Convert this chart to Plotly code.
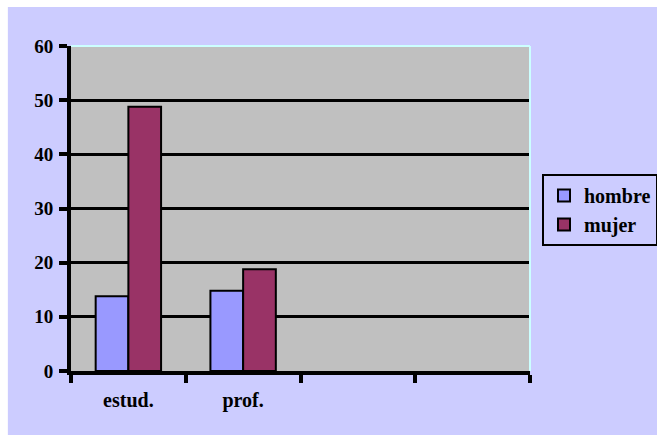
import plotly.graph_objects as go

categories = ["estud.", "prof.", "\u00a0", "\u00a0\u00a0"]
hombre = [13.8, 14.8, None, None]
mujer = [48.8, 18.8, None, None]
y_ticks = [0, 10, 20, 30, 40, 50, 60]

FONT = "Liberation Serif"
LAV = "#CCCCFF"

fig = go.Figure()
fig.add_trace(go.Bar(name="hombre", x=categories, y=hombre,
                     marker=dict(color="#9999FF", line=dict(color="black", width=2))))
fig.add_trace(go.Bar(name="mujer", x=categories, y=mujer,
                     marker=dict(color="#993366", line=dict(color="black", width=2))))

fig.update_layout(
    width=657, height=435,
    margin=dict(l=71, r=127, t=46, b=64, autoexpand=False),
    paper_bgcolor=LAV, plot_bgcolor="#C0C0C0",
    barmode="group", bargap=0.43, bargroupgap=0,
    font=dict(family=FONT, size=20, color="black"),
    legend=dict(xref="container", yref="container", x=542 / 657, y=1 - 174 / 435,
                xanchor="left", yanchor="top",
                bgcolor=LAV, bordercolor="black", borderwidth=2,
                font=dict(family=FONT, size=20, color="black", weight="bold"),
                itemwidth=30, tracegroupgap=2),
    showlegend=True,
)
fig.update_xaxes(type="category", categoryorder="array", categoryarray=categories,
                 range=[-0.5, 3.5], tickson="boundaries",
                 showline=True, linecolor="black", linewidth=4,
                 ticks="outside", ticklen=8, tickwidth=4, tickcolor="black",
                 showgrid=False, ticklabelstandoff=8,
                 tickfont=dict(family=FONT, size=20, weight="bold"))
fig.update_yaxes(range=[0, 60], tickvals=y_ticks,
                 showline=True, linecolor="black", linewidth=4,
                 ticks="outside", ticklen=8, tickwidth=4, tickcolor="black",
                 showgrid=True, gridcolor="black", gridwidth=2.5, zeroline=False,
                 ticklabelstandoff=2,
                 tickfont=dict(family=FONT, size=19, weight="bold"))
# light top/right border of plot area
fig.add_shape(type="line", xref="paper", yref="paper", x0=0, x1=1, y0=1, y1=1,
              line=dict(color="#CCFFFF", width=2))
fig.add_shape(type="line", xref="paper", yref="paper", x0=1, x1=1, y0=0, y1=1,
              line=dict(color="#CCFFFF", width=2))
# white page edges at top and left
fig.add_shape(type="rect", xref="paper", yref="paper", x0=-0.2, x1=1.3,
              y0=(435 - 7 - 64) / 325, y1=1.2, line=dict(width=0), fillcolor="white")
fig.add_shape(type="rect", xref="paper", yref="paper", x0=-0.2, x1=(8 - 71) / 458,
              y0=-0.3, y1=1.2, line=dict(width=0), fillcolor="white")

fig.write_html("out.html", config={"displayModeBar": False},
               post_script="document.body.style.margin='0px';")
